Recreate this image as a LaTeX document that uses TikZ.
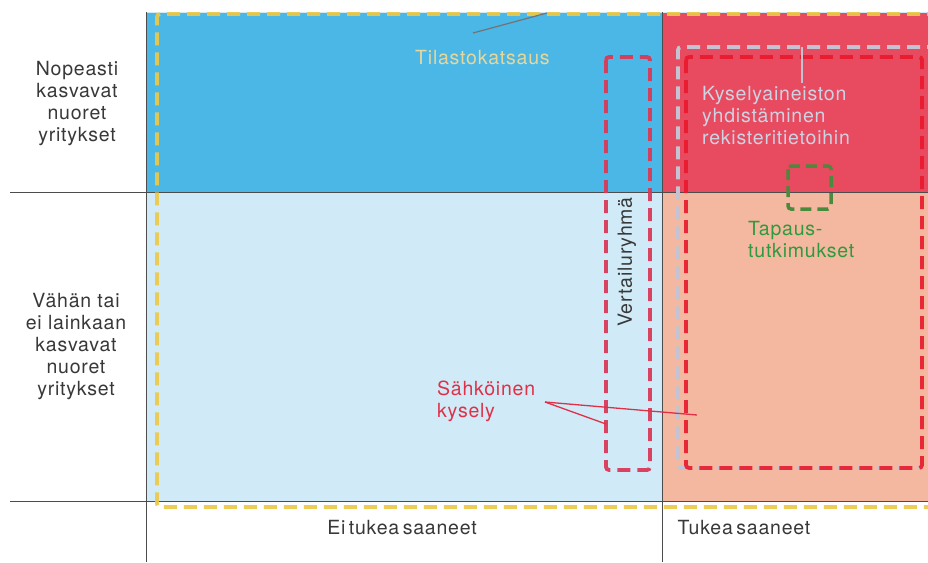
\documentclass[tikz,border=0pt]{standalone}
\usepackage{fontspec}
\setmainfont[LetterSpace=4]{TeX Gyre Heros}
\definecolor{cBlue}{HTML}{4BB7E6}
\definecolor{cLightBlue}{HTML}{D0EBF7}
\definecolor{cRed}{HTML}{E84A5F}
\definecolor{cSalmon}{HTML}{F4B8A0}
\definecolor{cYellow}{HTML}{EDC948}
\definecolor{cCrimson}{HTML}{D83A58}
\definecolor{cBright}{HTML}{E8192C}
\definecolor{cGrayBox}{HTML}{C3C3D3}
\definecolor{cGreen}{HTML}{4A8A3C}
\definecolor{cGreenT}{HTML}{2E9A3E}
\definecolor{cTila}{HTML}{E6D79C}
\definecolor{cKys}{HTML}{CDD3E3}
\definecolor{cSah}{HTML}{E03048}
\newcommand{\tsp}{\hspace{3.5pt}}
\begin{document}
\begin{tikzpicture}[x=1pt,y=-1pt,
  lbl/.style={font=\fontsize{19.5}{22}\selectfont, text=black!78, align=center, inner sep=0pt},
  axis/.style={draw=black!70, line width=0.8pt},
  dashbox/.style={line width=3.8pt, dash pattern=on 13pt off 7pt, rounded corners=3pt},
]
\useasboundingbox (0,0) rectangle (928,562);
% quadrants
\fill[cBlue] (146,13) rectangle (662,192);
\fill[cRed] (662,13) rectangle (928,192);
\fill[cLightBlue] (146,192) rectangle (662,501);
\fill[cSalmon] (662,192) rectangle (928,501);
\draw[cLightBlue, line width=0.8pt] (146,12.5) -- (928,12.5);
% axes
\coordinate (vt) at (146,12);
\coordinate (vb) at (146,562);
\coordinate (mt) at (662,12);
\coordinate (mb) at (662,562);
\coordinate (h1l) at (10,192);
\coordinate (h1r) at (928,192);
\coordinate (h2l) at (10,501);
\coordinate (h2r) at (928,501);
\draw[axis] (vt) -- (vb);
\draw[axis] (mt) -- (mb);
\draw[axis] (h1l) -- (h1r);
\draw[axis] (h2l) -- (h2r);
% yellow box (Tilastokatsaus)
\draw[dashbox, cYellow, opacity=0.92] (940,14) -- (157,14) -- (157,507) -- (940,507);
% Vertailuryhma box
\draw[dashbox, cCrimson, opacity=0.95] (606,57) rectangle (650,470);
% gray box
\draw[dashbox, cGrayBox] (940,47) -- (678,47) -- (678,468) -- (922,468);
% red box
\draw[dashbox, cBright, opacity=0.9] (686,57) rectangle (922,468);
% green box
\draw[dashbox, cGreen, line width=3.5pt, dash pattern=on 11pt off 6pt] (788,166) rectangle (831,209);
% texts
\node[lbl] (nop) at (77,104) {Nopeasti\\kasvavat\\nuoret\\yritykset};
\node[lbl] (vah) at (76,347) {Vähän tai\\ei lainkaan\\kasvavat\\nuoret\\yritykset};
\node[lbl] (ei) at (402,528) {Ei\tsp tukea\tsp saaneet};
\node[lbl] (tuk) at (744,528) {Tukea\tsp saaneet};
\node[lbl, text=cTila, anchor=west] (tila) at (415,58) {Tilastokatsaus};
\node[lbl, rotate=90] (vert) at (627,262) {Vertailuryhmä};
\node[lbl, text=cKys, anchor=north west, align=left] (kys) at (702,86) {Kyselyaineiston\\yhdistäminen\\rekisteritietoihin};
\node[lbl, text=cGreenT, anchor=north west, align=left] (tap) at (748,221) {Tapaus-\\tutkimukset};
\node[lbl, text=cSah, anchor=north west, align=left] (sah) at (437,381) {Sähköinen\\kysely};
% leader lines
\coordinate (tilaA) at (473,33);
\coordinate (tilaB) at (547,13);
\draw[black!55, line width=1.2pt] (tilaA) -- (tilaB);
\coordinate (kysA) at (802,83);
\coordinate (kysB) at (802,47);
\draw[cGrayBox, line width=1.2pt] (kysA) -- (kysB);
\coordinate (sahA) at (545,402);
\coordinate (sahB) at (606,424);
\coordinate (sahC) at (697,415);
\draw[cSah, line width=1.3pt] (sahA) -- (sahB);
\draw[cSah, line width=1.3pt] (sahA) -- (sahC);
\end{tikzpicture}
\end{document}
